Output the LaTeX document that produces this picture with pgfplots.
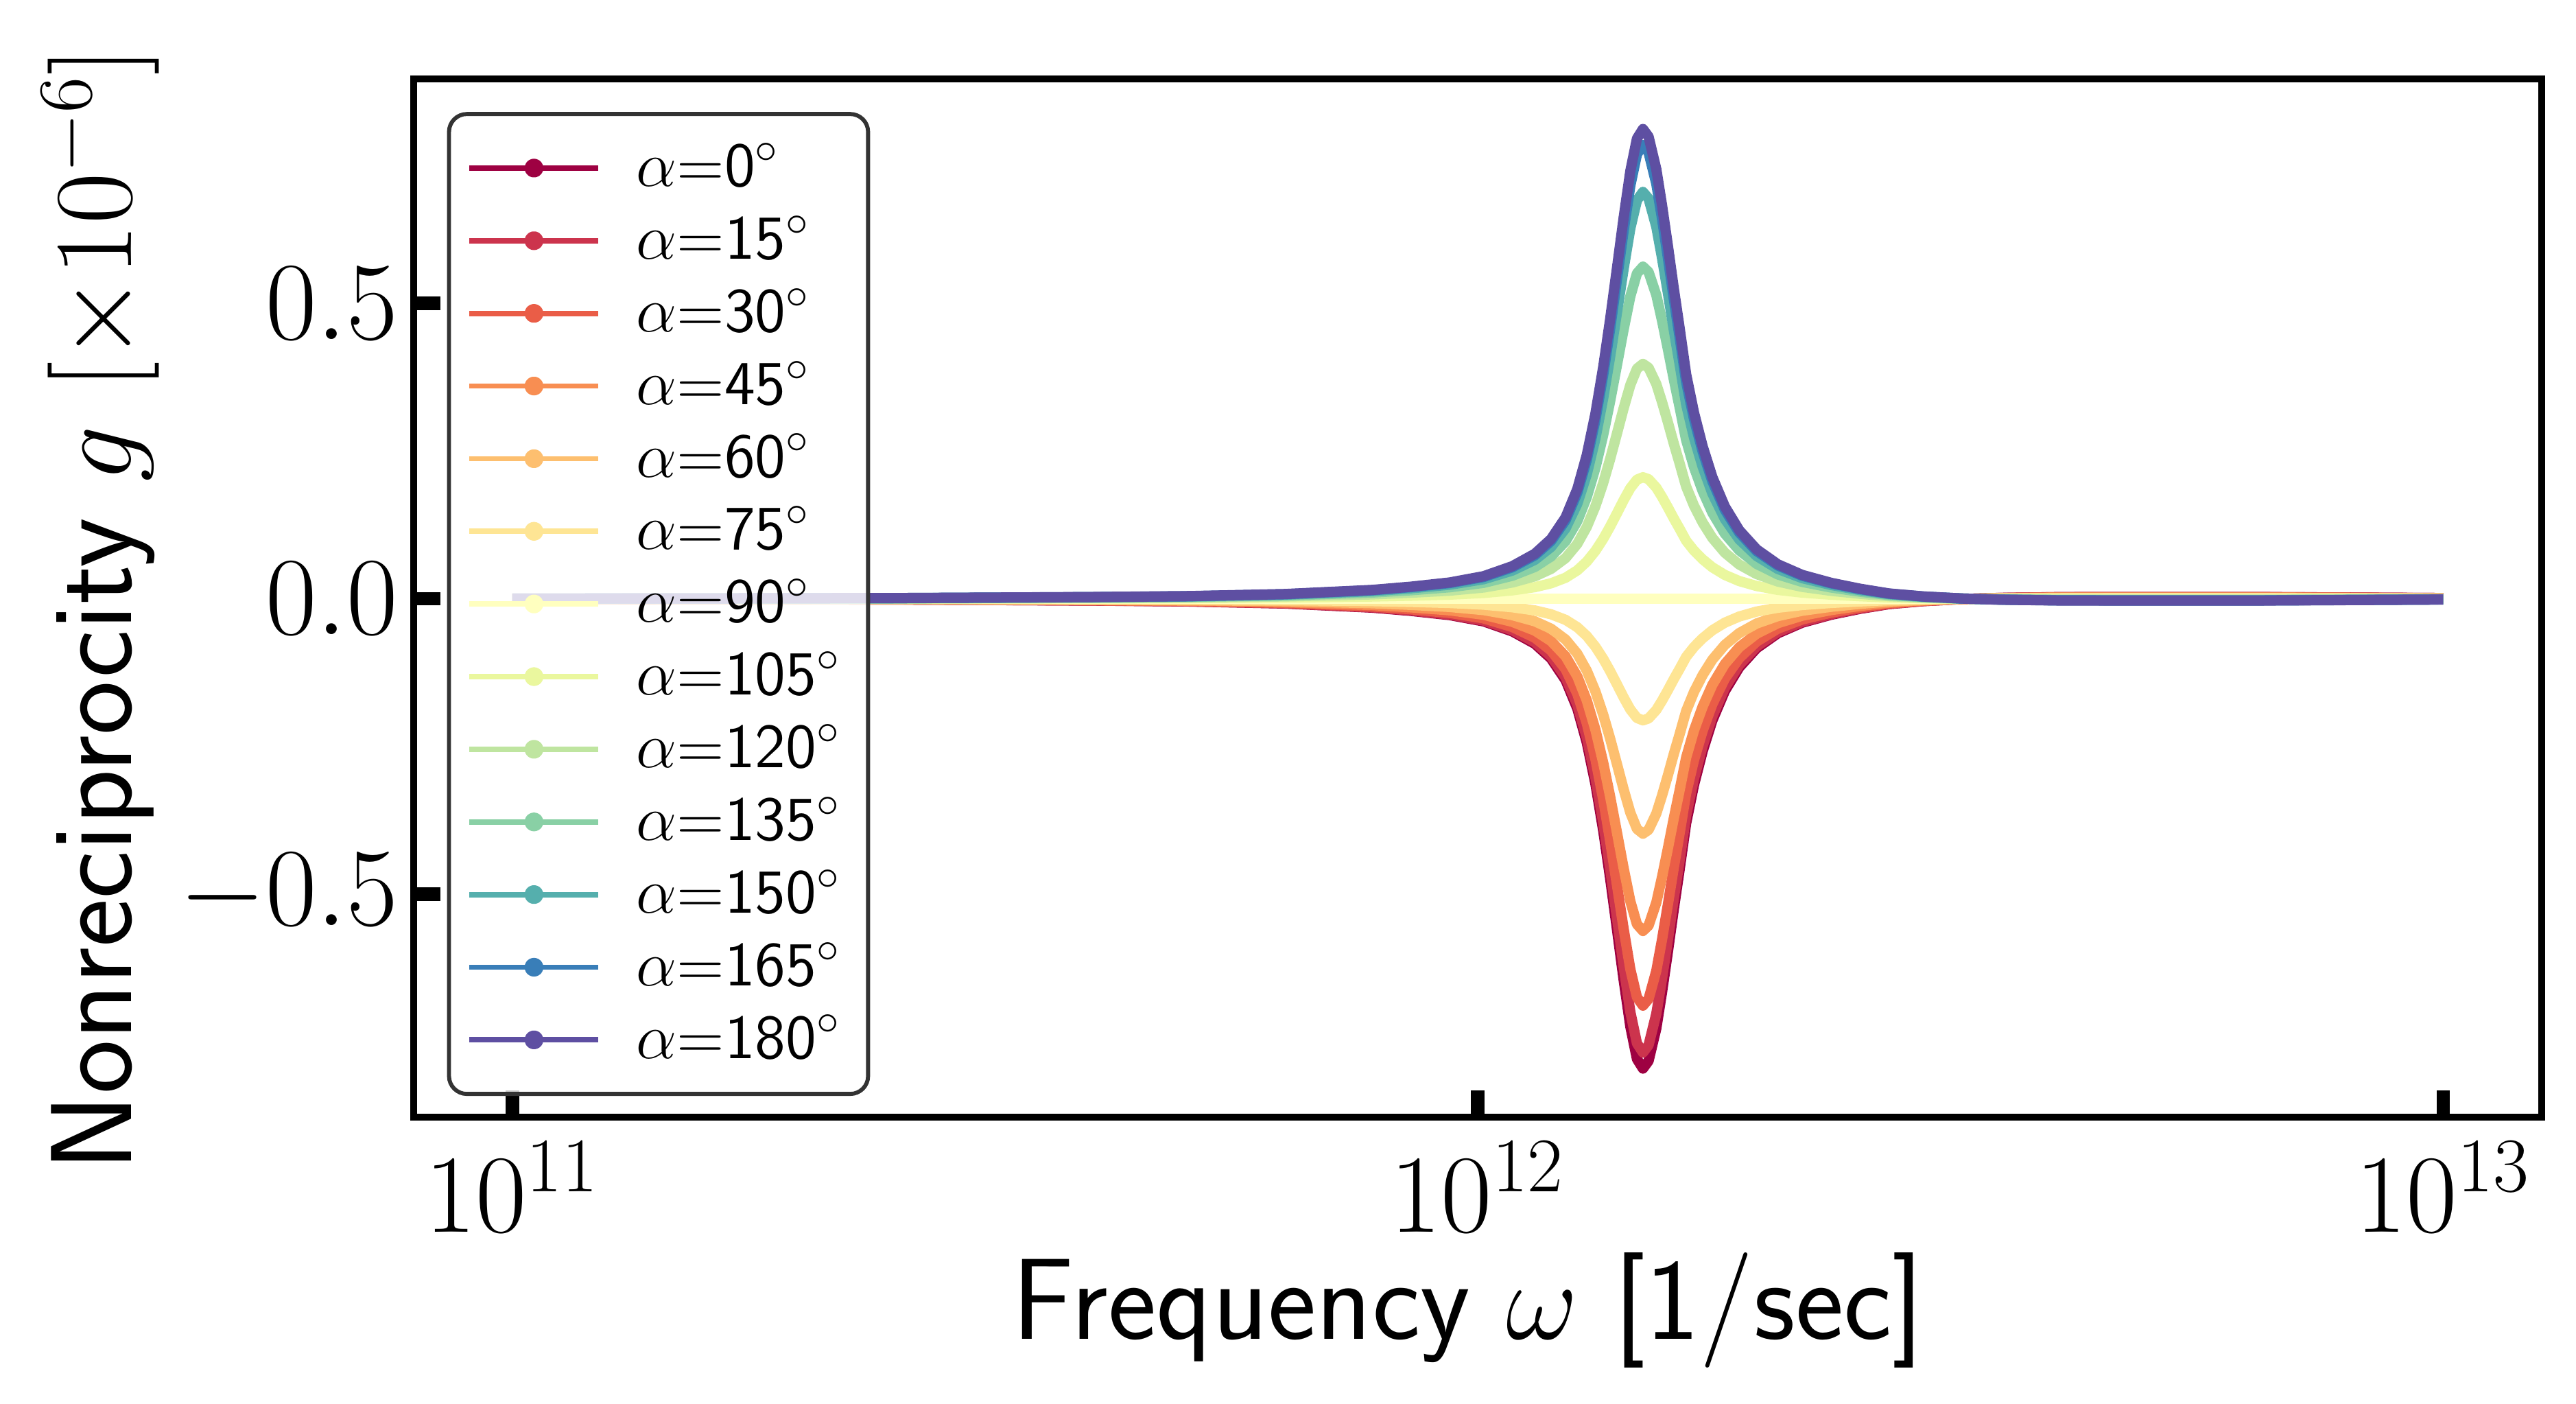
\documentclass[border=0pt]{standalone}
\usepackage{pgfplots}
\usepackage{pgfplotstable}
\pgfplotsset{compat=1.18}
\definecolor{c0}{RGB}{158,1,66}
\definecolor{c1}{RGB}{204,52,77}
\definecolor{c2}{RGB}{234,93,71}
\definecolor{c3}{RGB}{248,142,82}
\definecolor{c4}{RGB}{253,191,111}
\definecolor{c5}{RGB}{254,229,148}
\definecolor{c6}{RGB}{255,255,191}
\definecolor{c7}{RGB}{234,247,158}
\definecolor{c8}{RGB}{191,229,160}
\definecolor{c9}{RGB}{137,208,165}
\definecolor{c10}{RGB}{85,175,173}
\definecolor{c11}{RGB}{57,126,184}
\definecolor{c12}{RGB}{94,79,162}
\definecolor{legframe}{RGB}{51,51,51}
\pgfplotstableread{
w a0 a15 a30 a45 a60 a75 a90 a105 a120 a135 a150 a165 a180
1.000e11 -0.0003 -0.0003 -0.0003 -0.0002 -0.00015 -0.0001 0 0.0001 0.00015 0.0002 0.0003 0.0003 0.0003
1.585e11 -0.0006 -0.0006 -0.0005 -0.0004 -0.0003 -0.0002 0 0.0002 0.0003 0.0004 0.0005 0.0006 0.0006
2.512e11 -0.0012 -0.0012 -0.0010 -0.0008 -0.0006 -0.0003 0 0.0003 0.0006 0.0008 0.0010 0.0012 0.0012
3.981e11 -0.0030 -0.0029 -0.0026 -0.0021 -0.0015 -0.0008 0 0.0008 0.0015 0.0021 0.0026 0.0029 0.0030
5.012e11 -0.0045 -0.0043 -0.0039 -0.0032 -0.0023 -0.0012 0 0.0012 0.0023 0.0032 0.0039 0.0043 0.0045
6.310e11 -0.0080 -0.0077 -0.0069 -0.0057 -0.0040 -0.0021 0 0.0021 0.0040 0.0057 0.0069 0.0077 0.0080
7.780e11 -0.0150 -0.0145 -0.0130 -0.0106 -0.0075 -0.0039 0 0.0039 0.0075 0.0106 0.0130 0.0145 0.0150
8.531e11 -0.0205 -0.0198 -0.0178 -0.0145 -0.0103 -0.0053 0 0.0053 0.0103 0.0145 0.0178 0.0198 0.0205
9.354e11 -0.0276 -0.0267 -0.0239 -0.0195 -0.0138 -0.0071 0 0.0071 0.0138 0.0195 0.0239 0.0267 0.0276
1.014e12 -0.0382 -0.0369 -0.0331 -0.0270 -0.0191 -0.0099 0 0.0099 0.0191 0.0270 0.0331 0.0369 0.0382
1.086e12 -0.0552 -0.0533 -0.0478 -0.0390 -0.0276 -0.0143 0 0.0143 0.0276 0.0390 0.0478 0.0533 0.0552
1.146e12 -0.0762 -0.0736 -0.0660 -0.0539 -0.0381 -0.0197 0 0.0197 0.0381 0.0539 0.0660 0.0736 0.0762
1.191e12 -0.1011 -0.0977 -0.0876 -0.0715 -0.0506 -0.0262 0 0.0262 0.0506 0.0715 0.0876 0.0977 0.1011
1.233e12 -0.1377 -0.1330 -0.1192 -0.0974 -0.0689 -0.0356 0 0.0356 0.0689 0.0974 0.1192 0.1330 0.1377
1.268e12 -0.1857 -0.1794 -0.1608 -0.1313 -0.0929 -0.0481 0 0.0481 0.0929 0.1313 0.1608 0.1794 0.1857
1.297e12 -0.2432 -0.2349 -0.2106 -0.1720 -0.1216 -0.0629 0 0.0629 0.1216 0.1720 0.2106 0.2349 0.2432
1.324e12 -0.3133 -0.3026 -0.2713 -0.2215 -0.1567 -0.0811 0 0.0811 0.1567 0.2215 0.2713 0.3026 0.3133
1.349e12 -0.3927 -0.3793 -0.3401 -0.2777 -0.1964 -0.1016 0 0.1016 0.1964 0.2777 0.3401 0.3793 0.3927
1.371e12 -0.4719 -0.4558 -0.4087 -0.3337 -0.2360 -0.1221 0 0.1221 0.2360 0.3337 0.4087 0.4558 0.4719
1.393e12 -0.5562 -0.5372 -0.4817 -0.3933 -0.2781 -0.1439 0 0.1439 0.2781 0.3933 0.4817 0.5372 0.5562
1.416e12 -0.6441 -0.6221 -0.5578 -0.4554 -0.3221 -0.1667 0 0.1667 0.3221 0.4554 0.5578 0.6221 0.6441
1.439e12 -0.7238 -0.6991 -0.6268 -0.5118 -0.3619 -0.1873 0 0.1873 0.3619 0.5118 0.6268 0.6991 0.7238
1.462e12 -0.7788 -0.7523 -0.6744 -0.5507 -0.3894 -0.2016 0 0.2016 0.3894 0.5507 0.6744 0.7523 0.7788
1.483e12 -0.7950 -0.7679 -0.6885 -0.5621 -0.3975 -0.2057 0 0.2057 0.3975 0.5621 0.6885 0.7679 0.7950
1.503e12 -0.7820 -0.7553 -0.6772 -0.5530 -0.3910 -0.2024 0 0.2024 0.3910 0.5530 0.6772 0.7553 0.7820
1.531e12 -0.7270 -0.7022 -0.6296 -0.5141 -0.3635 -0.1881 0 0.1881 0.3635 0.5141 0.6296 0.7022 0.7270
1.552e12 -0.6660 -0.6433 -0.5768 -0.4709 -0.3330 -0.1724 0 0.1724 0.3330 0.4709 0.5768 0.6433 0.6660
1.574e12 -0.5970 -0.5766 -0.5170 -0.4221 -0.2985 -0.1545 0 0.1545 0.2985 0.4221 0.5170 0.5766 0.5970
1.596e12 -0.5260 -0.5081 -0.4555 -0.3719 -0.2630 -0.1361 0 0.1361 0.2630 0.3719 0.4555 0.5081 0.5260
1.618e12 -0.4600 -0.4443 -0.3984 -0.3253 -0.2300 -0.1190 0 0.1190 0.2300 0.3253 0.3984 0.4443 0.4600
1.644e12 -0.3800 -0.3670 -0.3291 -0.2687 -0.1900 -0.0983 0 0.0983 0.1900 0.2687 0.3291 0.3670 0.3800
1.675e12 -0.3150 -0.3043 -0.2728 -0.2227 -0.1575 -0.0815 0 0.0815 0.1575 0.2227 0.2728 0.3043 0.3150
1.710e12 -0.2580 -0.2492 -0.2234 -0.1824 -0.1290 -0.0668 0 0.0668 0.1290 0.1824 0.2234 0.2492 0.2580
1.750e12 -0.2060 -0.1990 -0.1784 -0.1457 -0.1030 -0.0533 0 0.0533 0.1030 0.1457 0.1784 0.1990 0.2060
1.803e12 -0.1560 -0.1507 -0.1351 -0.1103 -0.0780 -0.0404 0 0.0404 0.0780 0.1103 0.1351 0.1507 0.1560
1.866e12 -0.1160 -0.1120 -0.1005 -0.0820 -0.0580 -0.0300 0 0.0300 0.0580 0.0820 0.1005 0.1120 0.1160
1.945e12 -0.0836 -0.0807 -0.0724 -0.0591 -0.0418 -0.0216 0 0.0216 0.0418 0.0591 0.0724 0.0807 0.0836
2.046e12 -0.0583 -0.0563 -0.0505 -0.0412 -0.0292 -0.0151 0 0.0151 0.0292 0.0412 0.0505 0.0563 0.0583
2.168e12 -0.0404 -0.0390 -0.0350 -0.0286 -0.0202 -0.0105 0 0.0105 0.0202 0.0286 0.0350 0.0390 0.0404
2.323e12 -0.0270 -0.0261 -0.0234 -0.0191 -0.0135 -0.0070 0 0.0070 0.0135 0.0191 0.0234 0.0261 0.0270
2.489e12 -0.0170 -0.0164 -0.0147 -0.0120 -0.0085 -0.0044 0 0.0044 0.0085 0.0120 0.0147 0.0164 0.0170
2.667e12 -0.0090 -0.0087 -0.0078 -0.0064 -0.0045 -0.0023 0 0.0023 0.0045 0.0064 0.0078 0.0087 0.0090
2.891e12 -0.0040 -0.0039 -0.0035 -0.0028 -0.0020 -0.0010 0 0.0010 0.0020 0.0028 0.0035 0.0039 0.0040
3.170e12 -0.0005 -0.0005 -0.0004 -0.0004 -0.0003 -0.0001 0 0.0001 0.0003 0.0004 0.0004 0.0005 0.0005
3.475e12 0.0015 0.0014 0.0013 0.0011 0.0008 0.0004 0 -0.0004 -0.0008 -0.0011 -0.0013 -0.0014 -0.0015
3.981e12 0.0028 0.0027 0.0024 0.0020 0.0014 0.0007 0 -0.0007 -0.0014 -0.0020 -0.0024 -0.0027 -0.0028
5.012e12 0.0030 0.0029 0.0026 0.0021 0.0015 0.0008 0 -0.0008 -0.0015 -0.0021 -0.0026 -0.0029 -0.0030
6.310e12 0.0030 0.0029 0.0026 0.0021 0.0015 0.0008 0 -0.0008 -0.0015 -0.0021 -0.0026 -0.0029 -0.0030
7.943e12 0.0022 0.0021 0.0019 0.0016 0.0011 0.0006 0 -0.0006 -0.0011 -0.0016 -0.0019 -0.0021 -0.0022
1.000e13 0.0012 0.0012 0.0010 0.0008 0.0006 0.0003 0 -0.0003 -0.0006 -0.0008 -0.0010 -0.0012 -0.0012
}\datatable
\begin{document}
\begin{tikzpicture}
\begin{axis}[
  scale only axis,
  width=475.8pt, height=232.1pt,
  xmode=log,
  xmin=7.907e10, xmax=1.265e13,
  ymin=-0.877, ymax=0.880,
  xtick={1e11,1e12,1e13},
  xminorticks=false,
  ytick={-0.5,0,0.5},
  yticklabels={$-0.5$,$0.0$,$0.5$},
  xtick pos=left, ytick pos=left,
  tick align=inside,
  major tick length=6pt,
  every tick/.style={black, line width=3pt},
  axis line style={line width=1.5pt},
  tick label style={font=\fontsize{26}{30}\selectfont},
  xticklabel style={yshift=-2pt},
  xlabel={Frequency $\omega$ [1/sec]},
  ylabel={Nonreciprocity $g$ $[\times 10^{-6}]$},
  label style={font=\sffamily\fontsize{25.8}{30}\selectfont},
  xlabel style={at={(axis description cs:0.4954,0)}, anchor=base, yshift=-49.7pt},
  ylabel style={at={(axis description cs:-0.1326,0.489)}, anchor=base},
  every axis plot/.append style={line width=2.3pt, line join=round, mark=none},
  legend image code/.code={
    \draw[line width=1.2pt] (0pt,0pt) -- (28.8pt,0pt);
    \fill (14.4pt,0pt) circle (0.95pt);
  },
  legend cell align=left,
  legend style={
    at={(axis description cs:0.0156,0.968)}, anchor=north west,
    draw=legframe, line width=0.9pt, rounded corners=4pt,
    fill=white, fill opacity=0.8, draw opacity=1, text opacity=1,
    font=\sffamily\fontsize{14}{16}\selectfont,
    inner xsep=4pt, inner ysep=4.5pt,
    row sep=1.07pt,
    /tikz/every odd column/.append style={column sep=5.9pt},
  },
]
\addplot[color=c0] table[x=w, y=a0] {\datatable};
\addlegendentry{$\alpha$=0$^\circ$}
\addplot[color=c1] table[x=w, y=a15] {\datatable};
\addlegendentry{$\alpha$=15$^\circ$}
\addplot[color=c2] table[x=w, y=a30] {\datatable};
\addlegendentry{$\alpha$=30$^\circ$}
\addplot[color=c3] table[x=w, y=a45] {\datatable};
\addlegendentry{$\alpha$=45$^\circ$}
\addplot[color=c4] table[x=w, y=a60] {\datatable};
\addlegendentry{$\alpha$=60$^\circ$}
\addplot[color=c5] table[x=w, y=a75] {\datatable};
\addlegendentry{$\alpha$=75$^\circ$}
\addplot[color=c6] table[x=w, y=a90] {\datatable};
\addlegendentry{$\alpha$=90$^\circ$}
\addplot[color=c7] table[x=w, y=a105] {\datatable};
\addlegendentry{$\alpha$=105$^\circ$}
\addplot[color=c8] table[x=w, y=a120] {\datatable};
\addlegendentry{$\alpha$=120$^\circ$}
\addplot[color=c9] table[x=w, y=a135] {\datatable};
\addlegendentry{$\alpha$=135$^\circ$}
\addplot[color=c10] table[x=w, y=a150] {\datatable};
\addlegendentry{$\alpha$=150$^\circ$}
\addplot[color=c11] table[x=w, y=a165] {\datatable};
\addlegendentry{$\alpha$=165$^\circ$}
\addplot[color=c12] table[x=w, y=a180] {\datatable};
\addlegendentry{$\alpha$=180$^\circ$}
\end{axis}
\pgfresetboundingbox
\path[use as bounding box] (-92.5pt,-64pt) rectangle (483.5pt,249.7pt);
\end{tikzpicture}
\end{document}
